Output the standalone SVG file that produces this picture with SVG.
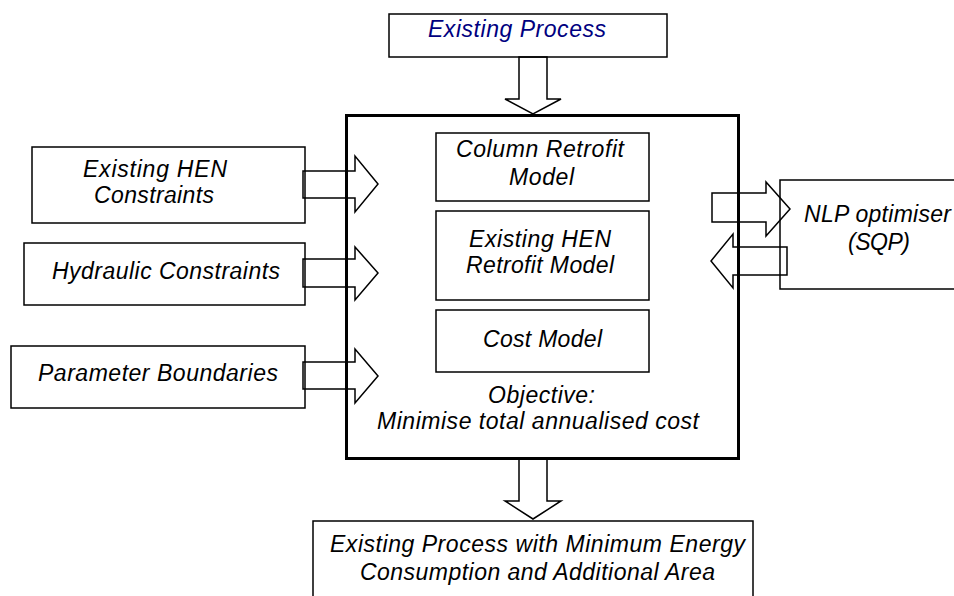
<svg xmlns="http://www.w3.org/2000/svg" width="954" height="596" viewBox="0 0 954 596">
<style>
  .box { fill: #ffffff; stroke: #000000; stroke-width: 1.5; }
  .main { fill: none; stroke: #000000; stroke-width: 3; }
  .t { font-family: "Liberation Sans", Arial, sans-serif; font-size: 23px; font-style: italic; fill: #000000; }
  .blue { fill: #000080; }
  .arrow { fill: none; stroke: #000000; stroke-width: 1.5; stroke-linejoin: miter; }
</style>
<rect x="0" y="0" width="954" height="596" fill="#ffffff"/>
<g id="existing-process">
  <rect class="box" x="389" y="14" width="278" height="43"/>
  <text class="t blue" x="428" y="37" textLength="178" lengthAdjust="spacing">Existing Process</text>
</g>
<g id="main-model">
  <rect class="main" x="346.5" y="115.5" width="392" height="343"/>
  <text class="t" x="488" y="403" textLength="107" lengthAdjust="spacing">Objective:</text>
  <text class="t" x="377" y="429" textLength="322" lengthAdjust="spacing">Minimise total annualised cost</text>
</g>
<g id="column-retrofit">
  <rect class="box" x="436" y="133" width="213" height="68"/>
  <text class="t" x="456" y="157" textLength="168" lengthAdjust="spacing">Column Retrofit</text>
  <text class="t" x="509" y="185" textLength="65" lengthAdjust="spacing">Model</text>
</g>
<g id="hen-retrofit">
  <rect class="box" x="436" y="211" width="213" height="89"/>
  <text class="t" x="469" y="247" textLength="142" lengthAdjust="spacing">Existing HEN</text>
  <text class="t" x="466" y="273" textLength="148" lengthAdjust="spacing">Retrofit Model</text>
</g>
<g id="cost-model">
  <rect class="box" x="436" y="310" width="213" height="62"/>
  <text class="t" x="483" y="347" textLength="119" lengthAdjust="spacing">Cost Model</text>
</g>
<g id="hen-constraints">
  <rect class="box" x="32" y="147" width="273" height="76"/>
  <text class="t" x="83" y="177" textLength="144" lengthAdjust="spacing">Existing HEN</text>
  <text class="t" x="94" y="203" textLength="120" lengthAdjust="spacing">Constraints</text>
</g>
<g id="hydraulic-constraints">
  <rect class="box" x="24" y="243" width="281" height="62"/>
  <text class="t" x="52" y="279" textLength="228" lengthAdjust="spacing">Hydraulic Constraints</text>
</g>
<g id="parameter-boundaries">
  <rect class="box" x="11" y="346" width="294" height="62"/>
  <text class="t" x="38" y="381" textLength="240" lengthAdjust="spacing">Parameter Boundaries</text>
</g>
<g id="nlp-optimiser">
  <rect class="box" x="780" y="180" width="190" height="109"/>
  <text class="t" x="804" y="222" textLength="147" lengthAdjust="spacing">NLP optimiser</text>
  <text class="t" x="848" y="250" textLength="62" lengthAdjust="spacing">(SQP)</text>
</g>
<g id="result">
  <rect class="box" x="313" y="521" width="440" height="90"/>
  <text class="t" x="330" y="552" textLength="415" lengthAdjust="spacing">Existing Process with Minimum Energy</text>
  <text class="t" x="360" y="580" textLength="355" lengthAdjust="spacing">Consumption and Additional Area</text>
</g>
<g id="connectors">
  <polygon class="arrow" points="519,57 547,57 547,99 561,99 533,114 505,99 519,99"/>
  <polygon class="arrow" points="303,171 355,171 355,156 378,184 355,212 355,198 303,198"/>
  <polygon class="arrow" points="303,259 355,259 355,247 378,273 355,300 355,287 303,287"/>
  <polygon class="arrow" points="303,362 355,362 355,349 378,376 355,403 355,389 303,389"/>
  <polygon class="arrow" points="712,193 766,193 766,182 790,209 766,236 766,222 712,222"/>
  <polygon class="arrow" points="787,247 733,247 733,234 711,261 733,288 733,275 787,275"/>
  <polygon class="arrow" points="519,459 547,459 547,501 561,501 533,519 505,501 519,501"/>
</g>
</svg>
